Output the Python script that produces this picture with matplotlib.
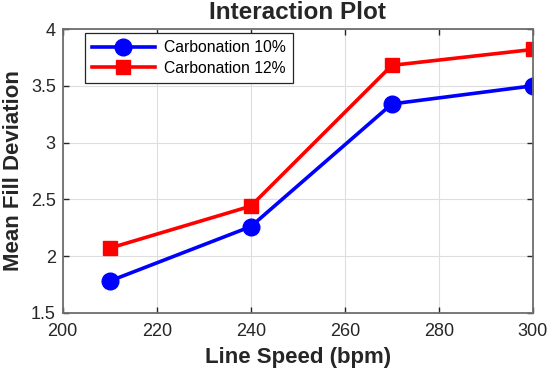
import matplotlib
matplotlib.use('Agg')
import matplotlib.pyplot as plt

# data
line_speed = [210, 240, 270, 300]
carb_10 = [1.78, 2.26, 3.34, 3.50]
carb_12 = [2.07, 2.44, 3.68, 3.82]

plt.rcParams['font.family'] = ['Liberation Sans', 'DejaVu Sans']

fig = plt.figure(figsize=(5.5, 3.72), dpi=100)
ax = fig.add_axes([0.114, 0.159, 0.855, 0.763])

ax.plot(line_speed, carb_10, '-o', color='#0000ff', lw=2.6, ms=12, label='Carbonation 10%')
ax.plot(line_speed, carb_12, '-s', color='#ff0000', lw=2.6, ms=10, label='Carbonation 12%')

ax.set_xlim(200, 300)
ax.set_ylim(1.5, 4)
ax.set_xticks([200, 220, 240, 260, 280, 300])
ax.set_yticks([1.5, 2, 2.5, 3, 3.5, 4])
ax.set_yticklabels(['1.5', '2', '2.5', '3', '3.5', '4'])
ax.grid(True, color='#dedede', lw=0.8)
ax.set_axisbelow(True)
ax.tick_params(direction='in', length=4, width=1, labelsize=13, colors='#262626',
               top=True, right=True)
ax.tick_params(axis='x', pad=7)
ax.tick_params(axis='y', pad=5)
for s in ax.spines.values():
    s.set_color('#6e6e6e')
    s.set_linewidth(1.3)

ax.set_xlabel('Line Speed (bpm)', fontsize=16, fontweight='bold', color='#262626', labelpad=5)
ax.set_ylabel('Mean Fill Deviation', fontsize=16, fontweight='bold', color='#262626', labelpad=5)
ax.set_title('Interaction Plot', fontsize=17.5, fontweight='bold', color='#262626', pad=7)

leg = ax.legend(loc='upper left', bbox_to_anchor=(0.047, 0.985), borderaxespad=0,
                fontsize=11.3, fancybox=False, framealpha=1,
                edgecolor='#262626', handlelength=4.0,
                borderpad=0.45, labelspacing=0.35, handletextpad=0.6)
leg.get_frame().set_linewidth(0.9)

plt.savefig('out.png', dpi=100)
